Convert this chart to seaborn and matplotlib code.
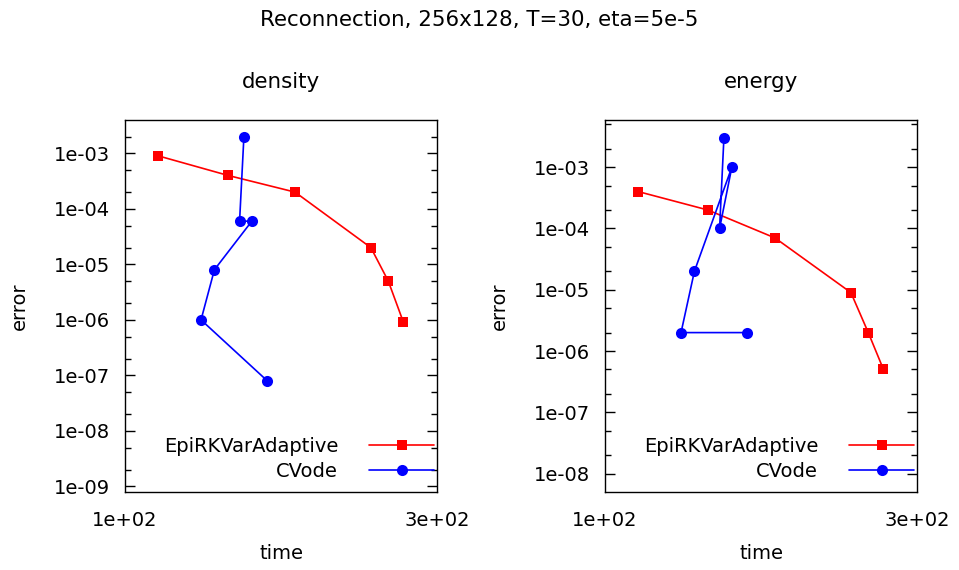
import matplotlib
matplotlib.use("Agg")
import matplotlib.pyplot as plt
import matplotlib.ticker as mticker
import numpy as np
import pandas as pd
import seaborn as sns

sns.set_theme(style="white")
plt.rcParams["font.family"] = ["DejaVu Sans"]
plt.rcParams["text.color"] = "black"
plt.rcParams["axes.labelcolor"] = "black"
plt.rcParams["xtick.color"] = "black"
plt.rcParams["ytick.color"] = "black"

FS = 14
TITLE_FS = 15.4

# Run times (same settings for both quantities)
epi_time = [112.4, 143.7, 182.0, 237.7, 252.7, 266.6]
cvode_time = [152.0, 149.7, 156.3, 137.0, 130.7, 165.0]

# Errors in density
density_epi = [9e-4, 4e-4, 2e-4, 2e-5, 5e-6, 9e-7]
density_cvode = [2e-3, 6e-5, 6e-5, 8e-6, 1e-6, 8e-8]

# Errors in energy
energy_epi = [4e-4, 2e-4, 7e-5, 9e-6, 2e-6, 5e-7]
energy_cvode = [3e-3, 1e-4, 1e-3, 2e-5, 2e-6, 2e-6]

suptitle = "Reconnection, 256x128, T=30, eta=5e-5"
panel_titles = ["density", "energy"]
series_names = ["EpiRKVarAdaptive", "CVode"]
x_ticks = [100, 300]
y_limits = [(10 ** -9.1, 10 ** -2.4), (10 ** -8.3, 10 ** -2.23)]

fig = plt.figure(figsize=(9.59, 5.70), dpi=100)
ax_w, ax_h = 312 / 959, 372 / 570
ax_bottom = (570 - 492) / 570
axes = [fig.add_axes([125 / 959, ax_bottom, ax_w, ax_h]),
        fig.add_axes([605 / 959, ax_bottom, ax_w, ax_h])]

panels = [(density_epi, density_cvode), (energy_epi, energy_cvode)]

for ax, title, (epi, cv), ylim in zip(axes, panel_titles, panels, y_limits):
    df_epi = pd.DataFrame({"time": epi_time, "error": epi})
    df_cv = pd.DataFrame({"time": cvode_time, "error": cv})
    sns.lineplot(data=df_epi, x="time", y="error", sort=False, estimator=None,
                 color="#ff0000", marker="s", markersize=7.5, markeredgewidth=0,
                 linewidth=1.2, label=series_names[0], ax=ax)
    sns.lineplot(data=df_cv, x="time", y="error", sort=False, estimator=None,
                 color="#0000ff", marker="o", markersize=8.0, markeredgewidth=0,
                 linewidth=1.2, label=series_names[1], ax=ax)

    ax.set_xscale("log")
    ax.set_yscale("log")
    ax.set_xlim(100, 300)
    ax.set_ylim(*ylim)

    ax.xaxis.set_major_locator(mticker.FixedLocator(x_ticks))
    ax.xaxis.set_minor_locator(mticker.NullLocator())
    ax.xaxis.set_major_formatter(mticker.FuncFormatter(lambda v, p: f"{v:.0e}"))
    ax.yaxis.set_major_locator(mticker.LogLocator(base=10, numticks=20))
    ax.yaxis.set_minor_locator(mticker.LogLocator(base=10, subs=(2.0, 5.0), numticks=20))
    ax.yaxis.set_minor_formatter(mticker.NullFormatter())
    ax.yaxis.set_major_formatter(mticker.FuncFormatter(lambda v, p: f"{v:.0e}"))
    ax.xaxis.offsetText.set_visible(False)
    ax.yaxis.offsetText.set_visible(False)

    ax.tick_params(axis="y", which="major", direction="in", length=7.2, width=1,
                   left=True, right=True, labelsize=FS, pad=11)
    ax.tick_params(axis="y", which="minor", direction="in", length=4, width=1,
                   left=True, right=True)
    ax.tick_params(axis="x", which="major", direction="in", length=0,
                   labelsize=FS, pad=14)

    for sp in ax.spines.values():
        sp.set_visible(True)
        sp.set_color("black")
        sp.set_linewidth(1.0)

    ax.set_title(title, fontsize=TITLE_FS, pad=23)
    ax.set_xlabel("time", fontsize=FS, labelpad=10)
    ax.set_ylabel("error", fontsize=FS, labelpad=18)

    ax.legend(loc="lower right", bbox_to_anchor=(1.013, 0.011), frameon=False,
              markerfirst=False, fontsize=FS, handlelength=3.35,
              handletextpad=1.6, labelspacing=0.3, borderaxespad=0.0,
              borderpad=0.35)

fig.suptitle(suptitle, fontsize=TITLE_FS, y=0.965, va="center")
fig.savefig("out.png", dpi=100)
